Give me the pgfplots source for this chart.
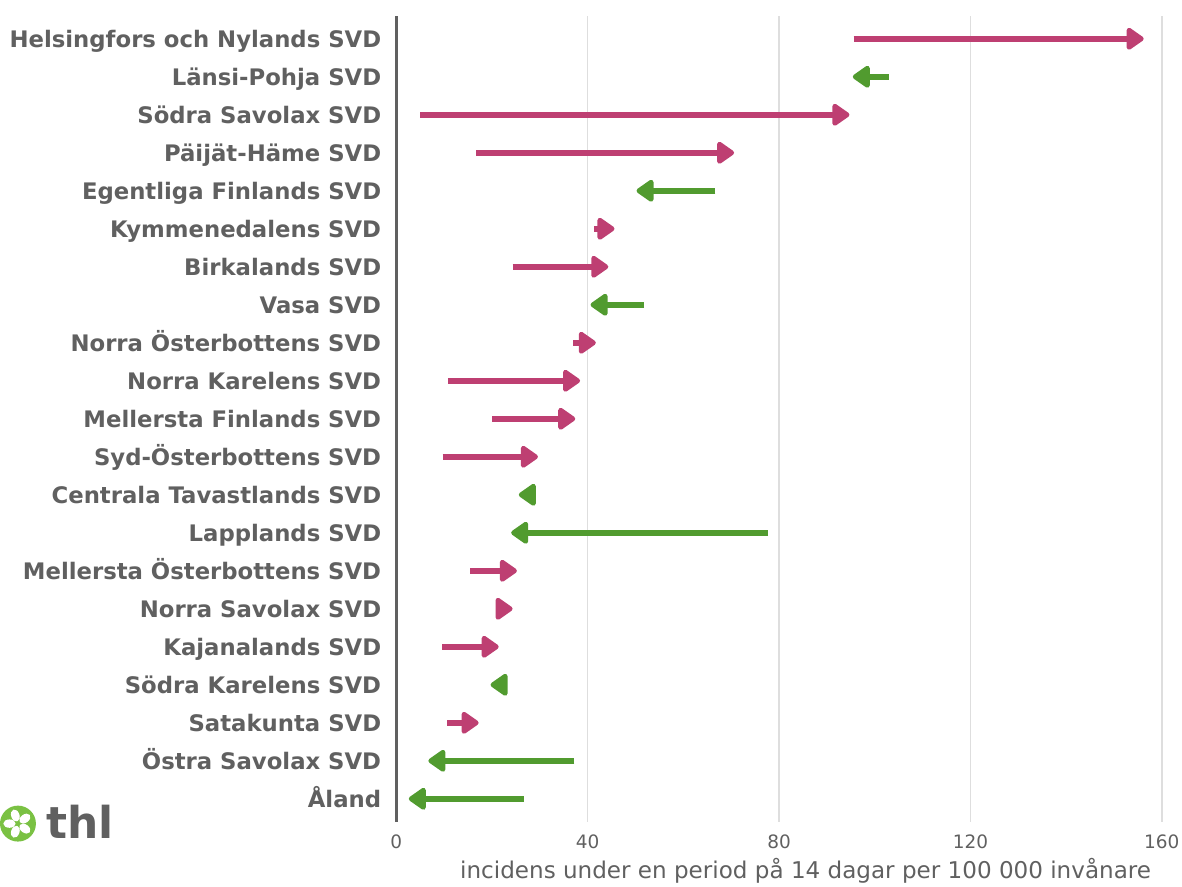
\documentclass[border=0pt]{standalone}
\usepackage{fontspec}
\setmainfont{DejaVu Sans}
\usepackage{pgfplots}
\pgfplotsset{compat=1.18}
\usetikzlibrary{arrows.meta}
\definecolor{pinkc}{HTML}{BE3F72}
\definecolor{greenc}{HTML}{519B2F}
\definecolor{txt}{HTML}{606060}
\definecolor{gridc}{HTML}{DEDEDE}
\definecolor{logog}{HTML}{7AC143}
\begin{document}
\begin{tikzpicture}
\begin{axis}[
  at={(0pt,0pt)}, anchor=south west,
  scale only axis, width=786pt, height=807pt,
  xmin=0, xmax=164, ymin=0.4, ymax=21.6,
  axis x line*=bottom, axis y line*=left,
  x axis line style={draw=none},
  y axis line style={line width=3pt, draw=txt},
  xtick={0,40,80,120,160},
  xmajorgrids, grid style={gridc, line width=1.5pt},
  ytick={1,...,21},
  yticklabels={Åland, Östra Savolax SVD, Satakunta SVD, Södra Karelens SVD, Kajanalands SVD, Norra Savolax SVD, Mellersta Österbottens SVD, Lapplands SVD, Centrala Tavastlands SVD, Syd-Österbottens SVD, Mellersta Finlands SVD, Norra Karelens SVD, Norra Österbottens SVD, Vasa SVD, Birkalands SVD, Kymmenedalens SVD, Egentliga Finlands SVD, Päijät-Häme SVD, Södra Savolax SVD, Länsi-Pohja SVD, Helsingfors och Nylands SVD},
  major tick length=0pt,
  /pgf/number format/assume math mode=true,
  yticklabel style={font=\fontsize{22.8}{27}\selectfont\bfseries, text=txt, anchor=east, inner sep=0pt, text height=20pt, text depth=3.4pt, xshift=-15pt},
  xticklabel style={font=\fontsize{18.5}{22}\selectfont, text=txt, anchor=north, inner sep=0pt, yshift=-13pt},
  xlabel={incidens under en period på 14 dagar per 100 000 invånare},
  xlabel style={font=\fontsize{23.1}{27}\selectfont, text=txt, at={(axis description cs:0.5216,0)}, anchor=center, yshift=-49pt},
  clip=false,
]
\addplot[pinkc, line width=5.5pt, quiver={u=\thisrow{u}, v=\thisrow{v}}, -{Triangle[length=19pt,width=25pt,round]}] table[x=x, y=y] {
x y u v
95.6 21 60.6 0
5.0 19 89.7 0
16.7 18 53.9 0
41.4 16 4.2 0
24.3 15 20.0 0
37.0 13 4.7 0
10.8 12 27.6 0
20.0 11 17.4 0
9.7 10 19.9 0
15.4 7 9.8 0
21.5 6 2.8 0
9.6 5 11.8 0
10.6 3 6.6 0
};
\addplot[greenc, line width=5.5pt, quiver={u=\thisrow{u}, v=\thisrow{v}}, -{Triangle[length=19pt,width=25pt,round]}] table[x=x, y=y] {
x y u v
102.9 20 -7.5 0
66.7 17 -16.5 0
51.8 14 -11.2 0
28.8 9 -3.2 0
77.7 8 -53.7 0
23.0 4 -3.3 0
37.2 2 -30.5 0
26.6 1 -24.0 0
};
\end{axis}
% logo
\begin{scope}[shift={(-379pt,-2pt)}]
\fill[logog] (0,0) circle (18pt);
\foreach \a in {90,162,234,306,378} {
  \fill[white, rotate=\a] (0,8.5pt) ellipse (4.2pt and 6.2pt);
}
\fill[logog] (0,0) circle (2.2pt);
\end{scope}
\node[anchor=base west, inner sep=0pt, text=txt, font=\fontsize{44}{50}\selectfont\bfseries] at (-351pt,-17pt) {thl};
\path[use as bounding box] (-395pt,-62pt) rectangle (787pt,823pt);
\end{tikzpicture}
\end{document}
